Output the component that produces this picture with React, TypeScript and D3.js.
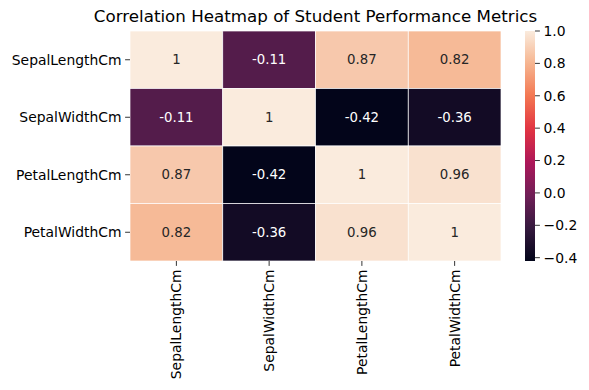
import React from "react";
import * as d3 from "d3";

// labels and correlation values (iris)
const labels = ["SepalLengthCm", "SepalWidthCm", "PetalLengthCm", "PetalWidthCm"];
const row0 = [1, -0.1094, 0.8718, 0.8179];
const row1 = [-0.1094, 1, -0.4205, -0.3565];
const row2 = [0.8718, -0.4205, 1, 0.9628];
const row3 = [0.8179, -0.3565, 0.9628, 1];
const matrix = [row0, row1, row2, row3];
const cbarTicks = [-0.4, -0.2, 0.0, 0.2, 0.4, 0.6, 0.8, 1.0];
const title = "Correlation Heatmap of Student Performance Metrics";

// rocket colormap stops
const rocketPos = [0, 1 / 7, 2 / 7, 3 / 7, 4 / 7, 5 / 7, 6 / 7, 1];
const rocketCols = ["#03051a", "#35193e", "#701f57", "#ad1759", "#e13342", "#f37651", "#f6b48f", "#faebdd"];

const W = 589, H = 390;
const left = 130, right = 501, top = 31, bottom = 261;
const cbX = 525, cbW = 10;
const font = "DejaVu Sans, sans-serif";

const fmt = (v: number) => {
  const r = Math.round(v * 100) / 100;
  return r === 1 ? "1" : d3.format(".2g")(r).replace("−", "-");
};

function lum(c: string) {
  const rgb = d3.rgb(c);
  const f = (v: number) => {
    v = v / 255;
    return v <= 0.03928 ? v / 12.92 : Math.pow((v + 0.055) / 1.055, 2.4);
  };
  return 0.2126 * f(rgb.r) + 0.7152 * f(rgb.g) + 0.0722 * f(rgb.b);
}

export default function App() {
  const all = matrix.flat();
  const vmin = d3.min(all) as number;
  const vmax = d3.max(all) as number;

  const x = d3.scaleBand().domain(labels).range([left, right]);
  const y = d3.scaleBand().domain(labels).range([top, bottom]);
  const tNorm = d3.scaleLinear().domain([vmin, vmax]).range([0, 1]);
  const cmap = d3.scaleLinear<string>().domain(rocketPos).range(rocketCols).interpolate(d3.interpolateRgb);
  const color = (v: number) => cmap(tNorm(v));
  const cbY = d3.scaleLinear().domain([vmin, vmax]).range([bottom, top]);

  const gradStops = d3.range(0, 1.0001, 0.02);

  return (
    <svg width={W} height={H} style={{ position: "absolute", left: 0, top: 0, background: "white" }} fontFamily={font}>
      <defs>
        <linearGradient id="rocket" x1="0" y1="1" x2="0" y2="0">
          {gradStops.map((s, i) => (
            <stop key={i} offset={s} stopColor={cmap(s)} />
          ))}
        </linearGradient>
      </defs>
      <text x={(left + right) / 2} y={22} textAnchor="middle" fontSize={16.7} fill="#000">{title}</text>

      {matrix.map((row, i) =>
        row.map((v, j) => (
          <rect key={i + "-" + j} x={x(labels[j])} y={y(labels[i])} width={x.bandwidth()} height={y.bandwidth()}
            fill={color(v)} stroke="white" strokeWidth={0.7} />
        ))
      )}
      {matrix.map((row, i) =>
        row.map((v, j) => (
          <text key={"t" + i + "-" + j} x={(x(labels[j]) as number) + x.bandwidth() / 2}
            y={(y(labels[i]) as number) + y.bandwidth() / 2} dy="0.35em" textAnchor="middle" fontSize={13.3}
            fill={lum(color(v)) > 0.408 ? "#262626" : "#ffffff"}>{fmt(v)}</text>
        ))
      )}

      {/* y axis */}
      {labels.map((l) => {
        const cy = (y(l) as number) + y.bandwidth() / 2;
        return (
          <g key={"y" + l}>
            <line x1={left - 4.9} x2={left} y1={cy} y2={cy} stroke="#000" strokeWidth={0.8} />
            <text x={left - 8.5} y={cy} dy="0.35em" textAnchor="end" fontSize={13.9} fill="#000">{l}</text>
          </g>
        );
      })}
      {/* x axis */}
      {labels.map((l) => {
        const cx = (x(l) as number) + x.bandwidth() / 2;
        return (
          <g key={"x" + l}>
            <line x1={cx} x2={cx} y1={bottom} y2={bottom + 4.9} stroke="#000" strokeWidth={0.8} />
            <text transform={`translate(${cx},${bottom + 8.5}) rotate(-90)`} dy="0.35em" textAnchor="end"
              fontSize={13.9} fill="#000">{l}</text>
          </g>
        );
      })}

      {/* colorbar */}
      <rect x={cbX} y={top} width={cbW} height={bottom - top} fill="url(#rocket)" />
      {cbarTicks.map((t) => (
        <g key={"c" + t}>
          <line x1={cbX + cbW} x2={cbX + cbW + 4.9} y1={cbY(t)} y2={cbY(t)} stroke="#000" strokeWidth={0.8} />
          <text x={cbX + cbW + 8.5} y={cbY(t)} dy="0.35em" fontSize={13.9} fill="#000">
            {d3.format(".1f")(t)}
          </text>
        </g>
      ))}
    </svg>
  );
}
